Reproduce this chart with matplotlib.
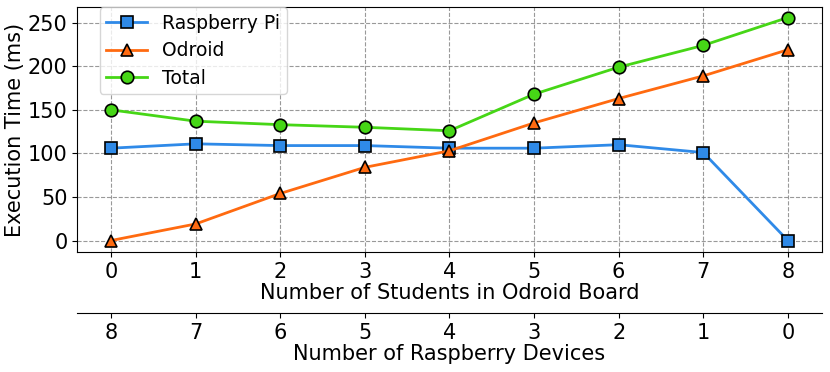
import matplotlib
matplotlib.use('Agg')
import matplotlib.pyplot as plt

students = [0, 1, 2, 3, 4, 5, 6, 7, 8]
raspberry_devices = [8, 7, 6, 5, 4, 3, 2, 1, 0]
raspberry_pi = [106, 111, 109, 109, 106, 106, 110, 101, 0]
odroid = [0, 19, 54, 84, 103, 135, 163, 189, 219]
total = [150, 137, 133, 130, 126, 168, 199, 224, 256]

plt.rcParams['font.size'] = 15

fig = plt.figure(figsize=(8.3, 3.72), dpi=100)
ax = fig.add_axes([0.093, 0.323, 0.897, 0.658])

ax.plot(students, raspberry_pi, color='#2F8AE8', marker='s', markersize=8.5,
        markeredgecolor='black', markeredgewidth=1.2, linewidth=2, label='Raspberry Pi')
ax.plot(students, odroid, color='#FF6A10', marker='^', markersize=9,
        markeredgecolor='black', markeredgewidth=1.2, linewidth=2, label='Odroid')
ax.plot(students, total, color='#46D616', marker='o', markersize=9,
        markeredgecolor='black', markeredgewidth=1.2, linewidth=2, label='Total')

ax.set_xlim(-0.4, 8.4)
ax.set_ylim(-13, 268)
ax.set_xticks(students)
ax.set_yticks([0, 50, 100, 150, 200, 250])
ax.grid(True, linestyle='--', color='gray', alpha=0.8, linewidth=0.8)
ax.set_xlabel('Number of Students in Odroid Board', labelpad=1)
ax.set_ylabel('Execution Time (ms)', labelpad=2)
ax.legend(loc='upper left', bbox_to_anchor=(0.03, 1.0), borderaxespad=0,
          fontsize=13.5, labelspacing=0.45, borderpad=0.35, handlelength=2.2)

# second x axis for the raspberry device count
ax2 = ax.twiny()
ax2.set_xlim(ax.get_xlim())
ax2.xaxis.set_ticks_position('bottom')
ax2.xaxis.set_label_position('bottom')
ax2.spines['bottom'].set_position(('outward', 44))
ax2.set_xticks(students)
ax2.set_xticklabels([str(v) for v in raspberry_devices])
ax2.set_xlabel('Number of Raspberry Devices', labelpad=1)
for s in ['top', 'left', 'right']:
    ax2.spines[s].set_visible(False)

fig.savefig('out.png', dpi=100)
